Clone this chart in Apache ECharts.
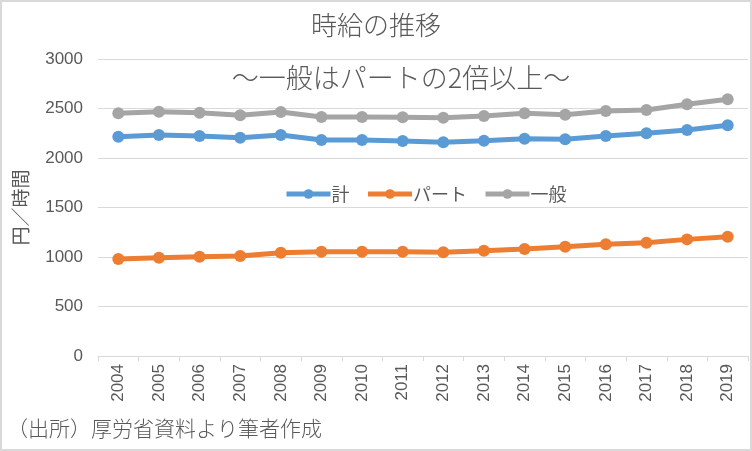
<!DOCTYPE html>
<html>
<head>
<meta charset="utf-8">
<script src="https://cdn.jsdelivr.net/npm/echarts@6/dist/echarts.min.js"></script>
<style>
html,body{margin:0;padding:0;background:#fff;}
#c{width:752px;height:451px;}
</style>
</head>
<body>
<div id="c"></div>
<script>
var years = ['2004','2005','2006','2007','2008','2009','2010','2011','2012','2013','2014','2015','2016','2017','2018','2019'];
var totalWage = [2215,2232,2222,2205,2232,2182,2182,2172,2158,2175,2195,2189,2222,2249,2283,2330];
var partWage = [980,993,1003,1010,1044,1054,1054,1054,1047,1064,1081,1104,1128,1145,1178,1205];
var generalWage = [2452,2468,2458,2431,2465,2414,2414,2411,2407,2424,2452,2437,2475,2485,2542,2593];
var seriesNames = ['計','パート','一般'];
var titleText = '時給の推移';
var subtitleText = '～一般はパートの2倍以上～';
var yName = '円／時間';
var footText = '（出所）厚労省資料より筆者作成';

var jp = '"Noto Sans CJK JP", "Noto Sans", sans-serif';
var num = '"Liberation Sans", sans-serif';
var colors = ['#5B9BD5','#ED7D31','#A5A5A5'];
var chart = echarts.init(document.getElementById('c'));
function mk(name, data, color){
  return {
    name: name, type: 'line', data: data,
    symbol: 'circle', symbolSize: 12,
    lineStyle: {width: 5, color: color},
    itemStyle: {color: color},
    emphasis: {disabled: true},
    animation: false
  };
}
chart.setOption({
  animation: false,
  color: colors,
  textStyle: {fontFamily: jp},
  graphic: [
    {type:'rect', shape:{x:1,y:1,width:750,height:449}, style:{fill:'none', stroke:'#D9D9D9', lineWidth:2}, z:100},
    {type:'text', left:'center', top:12, style:{text:titleText, font:'300 26px ' + jp, fill:'#595959'}},
    {type:'text', x:401, y:78, style:{text:subtitleText, font:'300 27px ' + jp, fill:'#595959', textAlign:'center', textVerticalAlign:'middle'}, z:10},
    {type:'text', x:7, y:428, style:{text:footText, font:'300 21px ' + jp, fill:'#595959', textAlign:'left', textVerticalAlign:'middle'}}
  ],
  legend: {
    data: seriesNames,
    left: 279, top: 180,
    itemWidth: 44, itemHeight: 12, itemGap: 16,
    lineStyle: {width: 5},
    textStyle: {fontSize: 18, color: '#595959', fontFamily: jp, padding:[0,0,0,-4]}
  },
  grid: {left: 98, right: 4, top: 59, bottom: 95},
  xAxis: {
    type: 'category', data: years, boundaryGap: true,
    axisLine: {lineStyle: {color: '#D9D9D9', width: 1}},
    axisTick: {show: true, length: 5, lineStyle: {color: '#D9D9D9'}},
    axisLabel: {rotate: 90, fontSize: 17, color: '#595959', margin: 8, fontFamily: num}
  },
  yAxis: {
    type: 'value', min: 0, max: 3000, interval: 500,
    name: yName, nameLocation: 'middle', nameGap: 68,
    nameTextStyle: {fontSize: 19, color: '#595959', fontFamily: jp},
    axisLine: {show: false}, axisTick: {show: false},
    splitLine: {lineStyle: {color: '#D9D9D9', width: 1}},
    axisLabel: {fontSize: 17, color: '#595959', margin: 15, fontFamily: num, formatter: function(v){ return String(v); }}
  },
  series: [
    mk(seriesNames[0], totalWage, colors[0]),
    mk(seriesNames[1], partWage, colors[1]),
    mk(seriesNames[2], generalWage, colors[2])
  ]
});
</script>
</body>
</html>
